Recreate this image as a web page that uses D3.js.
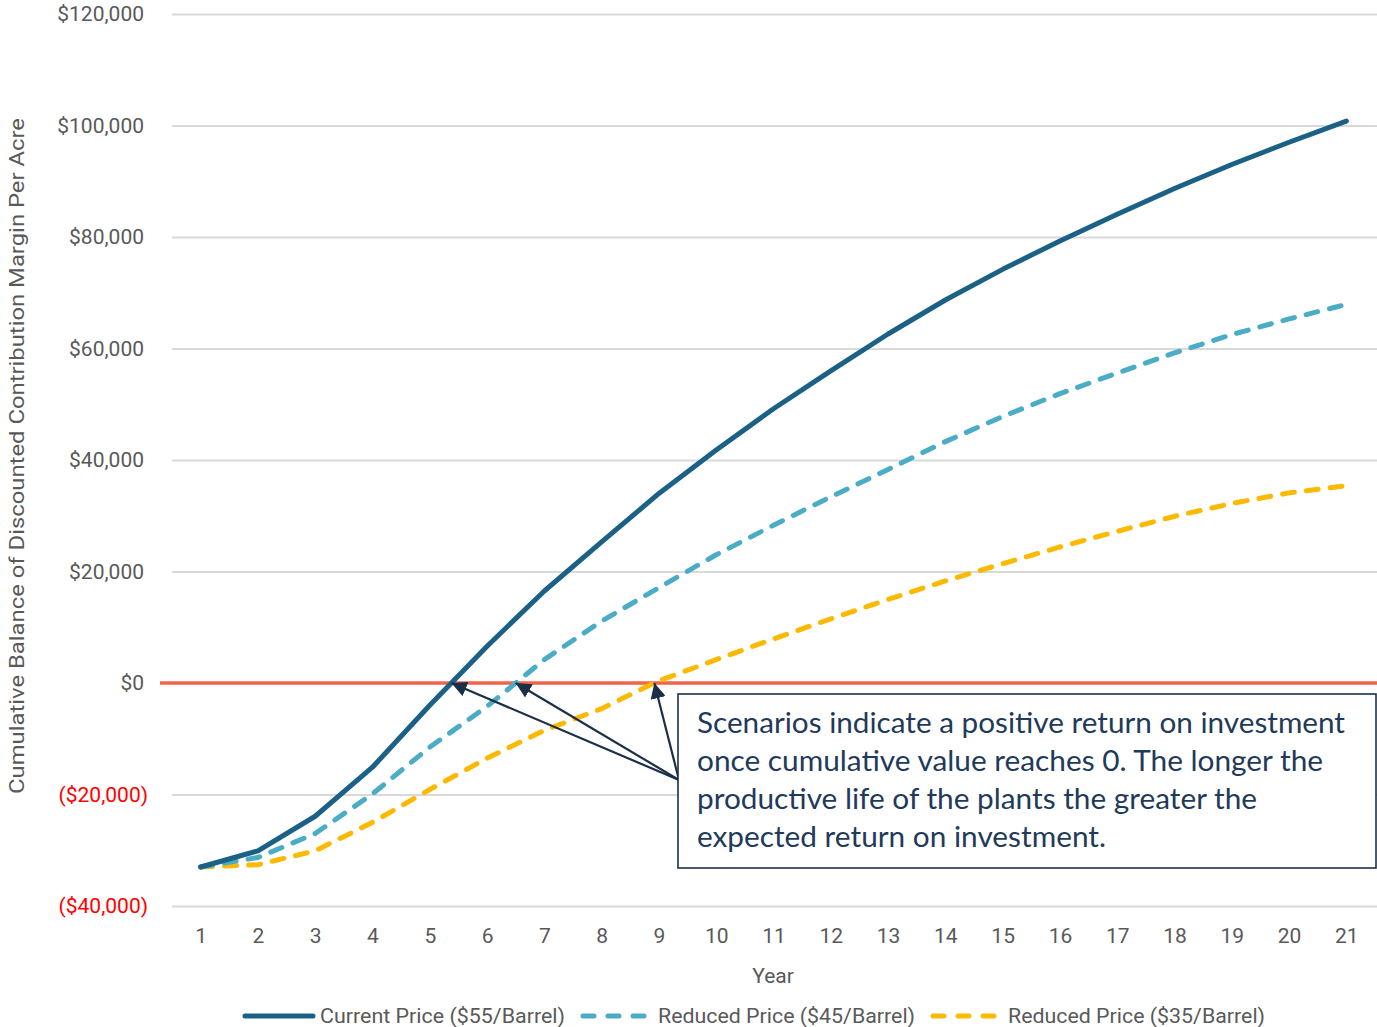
<!DOCTYPE html>
<html>
<head>
<meta charset="utf-8">
<script src="https://cdn.jsdelivr.net/npm/d3@7/dist/d3.min.js"></script>
<style>
  html, body { margin: 0; padding: 0; background: #ffffff; }
  svg { display: block; }
</style>
</head>
<body>
<svg id="chart" width="1377" height="1027"></svg>
<script>
// ---- Data ----
const years = [1,2,3,4,5,6,7,8,9,10,11,12,13,14,15,16,17,18,19,20,21];
const current55 = [-33000,-30100,-23900,-15100,-4000,6600,16500,25300,34000,41800,49200,56000,62600,68700,74200,79300,84100,88700,93000,97000,100800];
const reduced45 = [-33000,-31300,-27000,-19900,-11500,-4200,4200,11100,17100,23000,28300,33400,38300,43300,47800,51900,55600,59200,62500,65300,67900];
const reduced35 = [-33000,-32600,-30100,-25000,-19100,-13500,-8500,-4600,400,4200,7900,11500,15000,18300,21400,24400,27200,29900,32200,34100,35400];
const yTicks = [-40000,-20000,0,20000,40000,60000,80000,100000,120000];
const seriesNames = ["Current Price ($55/Barrel)","Reduced Price ($45/Barrel)","Reduced Price ($35/Barrel)"];
const annotationLines = [
  "Scenarios indicate a positive return on investment",
  "once cumulative value reaches 0. The longer the",
  "productive life of the plants the greater the",
  "expected return on investment."
];
const yTitle = "Cumulative Balance of Discounted Contribution Margin Per Acre";
const xTitle = "Year";

// ---- Setup ----
const svg = d3.select("#chart");
const plotLeft = 172, plotRight = 1375, plotTop = 14, plotBottom = 906;

const x = d3.scalePoint().domain(years).range([plotLeft, plotRight]).padding(0.5);
const y = d3.scaleLinear().domain([-40000, 120000]).range([plotBottom, plotTop]);

const fmt = v => v === 0 ? "$0" : (v < 0 ? "(" + "$" + d3.format(",")(-v) + ")" : "$" + d3.format(",")(v));

// gridlines
const grid = svg.append("g")
  .attr("transform", `translate(${plotLeft},0)`)
  .call(d3.axisRight(y).tickValues(yTicks).tickSize(1377 - plotLeft).tickFormat(""));
grid.select(".domain").remove();
grid.selectAll("line").attr("stroke", "#d9d9d9").attr("stroke-width", 2);

// y tick labels
svg.append("g").selectAll("text").data(yTicks).join("text")
  .attr("x", d => d < 0 ? 148 : 144)
  .attr("y", d => y(d))
  .attr("dy", "0.35em")
  .attr("text-anchor", "end")
  .attr("font-family", "Roboto, 'Liberation Sans', sans-serif")
  .attr("font-size", 21)
  .attr("fill", d => d < 0 ? "#ff0000" : "#595959")
  .text(fmt);

// x tick labels
const xAxis = svg.append("g")
  .attr("transform", `translate(0,${plotBottom})`)
  .call(d3.axisBottom(x).tickSize(0).tickPadding(22));
xAxis.select(".domain").remove();
xAxis.selectAll("text")
  .attr("font-family", "Roboto, 'Liberation Sans', sans-serif")
  .attr("font-size", 21)
  .attr("fill", "#595959");

// axis titles
svg.append("text")
  .attr("x", 773).attr("y", 983)
  .attr("text-anchor", "middle")
  .attr("font-family", "Roboto, 'Liberation Sans', sans-serif")
  .attr("font-size", 21)
  .attr("fill", "#595959")
  .text(xTitle);

svg.append("text")
  .attr("transform", `translate(24,456) rotate(-90)`)
  .attr("text-anchor", "middle")
  .attr("font-family", "Roboto, 'Liberation Sans', sans-serif")
  .attr("font-size", 21)
  .attr("fill", "#595959")
  .attr("textLength", 676)
  .attr("lengthAdjust", "spacingAndGlyphs")
  .text(yTitle);

// zero line
svg.append("line")
  .attr("x1", 160).attr("x2", 1377)
  .attr("y1", y(0)).attr("y2", y(0))
  .attr("stroke", "#f4634b").attr("stroke-width", 3.5);

// series lines
const series = [
  {name: seriesNames[0], values: current55, color: "#1b6186", dash: null},
  {name: seriesNames[1], values: reduced45, color: "#4bacc6", dash: "12,12"},
  {name: seriesNames[2], values: reduced35, color: "#fbb900", dash: "12,12"}
];
const line = d3.line().x((d, i) => x(years[i])).y(d => y(d));

svg.append("g").selectAll("path").data(series.slice().reverse()).join("path")
  .attr("d", d => line(d.values))
  .attr("fill", "none")
  .attr("stroke", d => d.color)
  .attr("stroke-width", 5)
  .attr("stroke-linecap", "round")
  .attr("stroke-linejoin", "round")
  .attr("stroke-dasharray", d => d.dash);

// annotation arrows
const defs = svg.append("defs");
defs.append("marker")
  .attr("id", "arrow")
  .attr("viewBox", "0 0 10 10")
  .attr("refX", 10).attr("refY", 5)
  .attr("markerWidth", 7).attr("markerHeight", 7)
  .attr("markerUnits", "strokeWidth")
  .attr("orient", "auto")
  .append("path").attr("d", "M0,0 L10,5 L0,10 z").attr("fill", "#1b3047");

const arrowOrigin = [679, 780];
// crossing points of each series with zero (interpolated from data)
function zeroCross(vals) {
  for (let i = 1; i < vals.length; i++) {
    if (vals[i - 1] < 0 && vals[i] >= 0) {
      const t = -vals[i - 1] / (vals[i] - vals[i - 1]);
      return x(years[i - 1]) + t * (x(years[i]) - x(years[i - 1]));
    }
  }
  return null;
}
const targets = [current55, reduced45, reduced35].map(zeroCross);
svg.append("g").selectAll("line").data(targets).join("line")
  .attr("x1", arrowOrigin[0]).attr("y1", arrowOrigin[1])
  .attr("x2", d => d).attr("y2", y(0))
  .attr("stroke", "#1b3047").attr("stroke-width", 2.2)
  .attr("marker-end", "url(#arrow)");

// annotation box
svg.append("rect")
  .attr("x", 678).attr("y", 694).attr("width", 698).attr("height", 174)
  .attr("fill", "#ffffff").attr("stroke", "#1b3047").attr("stroke-width", 1.6);

const annWidths = [648, 626, 560, 409];
svg.append("g").selectAll("text").data(annotationLines).join("text")
  .attr("x", 697)
  .attr("y", (d, i) => 733 + i * 38)
  .attr("font-family", "Lato, 'Open Sans', sans-serif")
  .attr("font-size", 28)
  .attr("fill", "#1f3a5a")
  .attr("textLength", (d, i) => annWidths[i])
  .attr("lengthAdjust", "spacingAndGlyphs")
  .text(d => d);

// legend
const legendItems = [
  {s: series[0], lx1: 245, lx2: 313, tx: 320, tw: 245},
  {s: series[1], lx1: 583, lx2: 645, tx: 658, tw: 257},
  {s: series[2], lx1: 933, lx2: 995, tx: 1008, tw: 257}
];
const lg = svg.append("g");
lg.selectAll("line").data(legendItems).join("line")
  .attr("x1", d => d.lx1).attr("x2", d => d.lx2)
  .attr("y1", 1016).attr("y2", 1016)
  .attr("stroke", d => d.s.color).attr("stroke-width", 5)
  .attr("stroke-linecap", "round")
  .attr("stroke-dasharray", d => d.s.dash ? "11,14" : null);
lg.selectAll("text").data(legendItems).join("text")
  .attr("x", d => d.tx).attr("y", 1023)
  .attr("font-family", "Roboto, 'Liberation Sans', sans-serif")
  .attr("font-size", 21)
  .attr("fill", "#595959")
  .attr("textLength", d => d.tw)
  .attr("lengthAdjust", "spacingAndGlyphs")
  .text(d => d.s.name);
</script>
</body>
</html>
